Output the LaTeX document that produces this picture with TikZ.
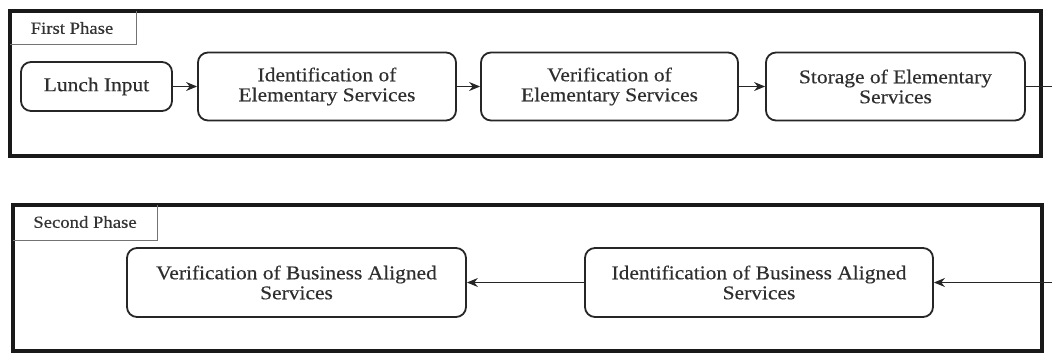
\documentclass[tikz,border=0pt]{standalone}
\usepackage{fontspec}
\setmainfont{Liberation Serif}[FakeStretch=1.1, FakeBold=0.4]
\usetikzlibrary{arrows.meta}
\begin{document}
\begin{tikzpicture}[x=1pt,y=-1pt,
  phase/.style={draw=black!90, line width=3.5pt},
  tab/.style={draw=black!55, line width=1pt},
  tablabel/.style={font=\fontsize{17}{18}\selectfont, text=black!80},
  stepbox/.style={draw=black!85, line width=1.8pt, rounded corners=10pt,
    align=center, inner sep=0pt, font=\fontsize{19.5}{20}\selectfont, text=black!82},
  flow/.style={draw=black!85, line width=1.2pt, -{Stealth[length=11pt,width=9pt]}},
  plain/.style={draw=black!85, line width=1.2pt}]
\useasboundingbox (0,0) rectangle (1052,354);

% phase frames with their title tabs
\draw[phase] (10,11) rectangle (1041,156);
\draw[tab] (10,44) -- (136,44) -- (136,11);
\node[tablabel] (t1) at (72,28) {First Phase};

\draw[phase] (13,205) rectangle (1042,351);
\draw[tab] (13,240) -- (157,240) -- (157,205);
\node[tablabel] (t2) at (85,222) {Second Phase};

% first phase steps
\node[stepbox, minimum width=151pt, minimum height=49pt] (lunch) at (96.5,86.5) {Lunch Input};
\node[stepbox, minimum width=258pt, minimum height=68pt] (idE) at (327,86.5) {Identification of\\Elementary Services};
\node[stepbox, minimum width=257pt, minimum height=68pt] (veE) at (609.5,86.5) {Verification of\\Elementary Services};
\node[stepbox, minimum width=259pt, minimum height=68pt] (stE) at (895.5,86.5) {Storage of Elementary\\Services};

% second phase steps
\node[stepbox, minimum width=339pt, minimum height=69pt] (veB) at (296.5,282.5) {Verification of Business Aligned\\Services};
\node[stepbox, minimum width=348pt, minimum height=69pt] (idB) at (759,282.5) {Identification of Business Aligned\\Services};

% connectors
\coordinate (out1) at (1052,86.5);
\coordinate (in2) at (1052,282.5);
\draw[flow] (lunch) -- (idE);
\draw[flow] (idE) -- (veE);
\draw[flow] (veE) -- (stE);
\draw[plain] (stE) -- (out1);
\draw[flow] (in2) -- (idB);
\draw[flow] (idB) -- (veB);
\end{tikzpicture}
\end{document}
